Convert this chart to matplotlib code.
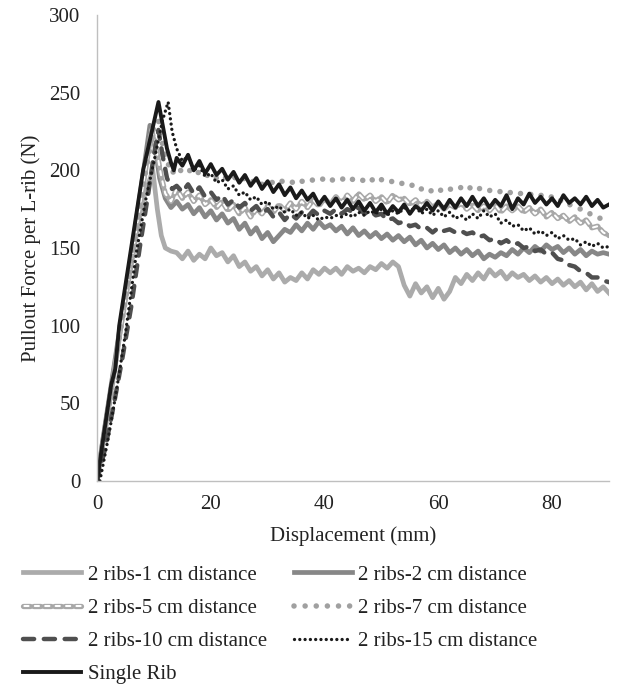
import numpy as np
import matplotlib
matplotlib.use("Agg")
import matplotlib.pyplot as plt
from matplotlib.legend_handler import HandlerTuple

plt.rcParams['font.family'] = ['Liberation Serif', 'DejaVu Serif']
plt.rcParams['lines.scale_dashes'] = False

# common x grid for the post-peak part (mm)
x_tail = np.arange(14, 91)

# 2 ribs - 1 cm
x1_head = [0, 1, 2.5, 4, 6, 8, 9.8, 10.6, 11.3, 12, 13]
y1_head = [0, 25, 60, 95, 140, 180, 200, 175, 158, 150, 148]
y1_tail = [147, 143, 148, 142, 146, 143, 150, 145, 147, 141,
           145, 138, 141, 135, 138, 132, 136, 130, 134, 128,
           131, 129, 134, 130, 136, 133, 137, 134, 137, 133,
           138, 135, 137, 134, 138, 136, 140, 137, 141, 138,
           126, 119, 127, 121, 125, 118, 124, 117, 122, 131,
           127, 133, 129, 134, 130, 136, 132, 135, 130, 134,
           131, 133, 129, 132, 128, 131, 127, 130, 126, 129,
           125, 128, 123, 127, 122, 125, 121]

# 2 ribs - 2 cm
x2_head = [0, 1, 2.5, 4, 6, 8, 9.3, 10.2, 11, 12, 13]
y2_head = [0, 26, 62, 98, 145, 195, 229, 215, 195, 182, 176]
y2_tail = [180, 175, 178, 172, 176, 170, 174, 168, 172, 166,
           169, 162, 166, 159, 163, 156, 160, 154, 158, 162,
           160, 165, 161, 166, 162, 167, 163, 165, 161, 164,
           159, 163, 158, 161, 157, 160, 156, 159, 155, 158,
           154, 157, 152, 155, 150, 153, 149, 152, 147, 150,
           146, 149, 145, 148, 143, 146, 144, 147, 145, 149,
           146, 150, 147, 151, 148, 152, 149, 151, 147, 150,
           146, 149, 145, 148, 146, 147, 146]

# 2 ribs - 5 cm
x5_head = [0, 1, 2.5, 4, 6, 8, 9.6, 10.5, 11.3, 12, 13]
y5_head = [0, 24, 58, 95, 140, 188, 226, 212, 196, 185, 180]
y5_tail = [188, 182, 186, 180, 184, 178, 181, 176, 180, 174,
           178, 172, 176, 170, 175, 172, 177, 173, 178, 174,
           179, 175, 180, 176, 181, 177, 182, 178, 183, 179,
           184, 180, 185, 181, 184, 180, 183, 179, 184, 181,
           182, 178, 181, 177, 180, 176, 179, 175, 178, 176,
           179, 175, 178, 174, 177, 174, 178, 173, 177, 174,
           177, 173, 176, 172, 175, 170, 173, 169, 171, 167,
           170, 166, 168, 163, 164, 160, 158]

# 2 ribs - 7 cm
x7_head = [0, 1, 2.5, 4, 6, 8, 10, 10.8, 11.6, 12.4, 13.2]
y7_head = [0, 24, 58, 94, 140, 188, 228, 232, 215, 205, 198]
y7_tail = [202, 199, 201, 197, 199, 196, 198, 195, 197, 194,
           196, 193, 195, 192, 194, 191, 193, 192, 194, 192,
           193, 191, 193, 192, 194, 193, 195, 193, 195, 194,
           196, 194, 195, 193, 195, 192, 194, 192, 193, 191,
           192, 190, 191, 188, 189, 186, 188, 186, 188, 187,
           189, 187, 190, 188, 189, 187, 188, 186, 187, 185,
           186, 184, 185, 183, 184, 182, 183, 180, 181, 178,
           177, 175, 174, 171, 170, 168, 166]

# 2 ribs - 10 cm
x10_head = [0, 1.5, 3, 4.5, 6, 7.5, 9, 10, 10.8, 11.5, 12.3, 13.2]
y10_head = [0, 22, 50, 80, 112, 150, 185, 210, 226, 210, 195, 188]
y10_tail = [190, 186, 191, 185, 189, 183, 186, 181, 184, 178,
            181, 176, 179, 174, 177, 172, 175, 170, 173, 168,
            172, 169, 173, 170, 174, 171, 174, 172, 175, 172,
            175, 173, 176, 172, 174, 171, 172, 168, 169, 166,
            167, 164, 165, 162, 163, 160, 163, 161, 162, 160,
            161, 159, 160, 157, 158, 155, 156, 153, 155, 152,
            153, 150, 151, 148, 149, 146, 147, 143, 142, 139,
            138, 135, 134, 131, 131, 129, 128]

# 2 ribs - 15 cm
x15_head = [0.5, 2, 3.5, 5, 7, 8.5, 10.2, 11.5, 12.5, 13.2]
y15_head = [0, 28, 60, 95, 149, 180, 209, 232, 244, 225]
y15_tail = [214, 206, 209, 200, 203, 196, 198, 192, 194, 188,
            190, 184, 186, 181, 183, 178, 180, 175, 177, 173,
            175, 171, 173, 169, 171, 168, 170, 169, 171, 170,
            172, 170, 173, 171, 174, 172, 175, 171, 174, 172,
            176, 173, 177, 172, 175, 171, 174, 170, 173, 169,
            171, 168, 172, 169, 174, 170, 172, 166, 168, 164,
            165, 161, 163, 159, 161, 158, 160, 156, 158, 155,
            156, 152, 154, 151, 153, 150, 151]

# single rib
xs_head = [0, 1.2, 2.5, 3.2, 3.9, 6, 8.1, 10.8, 11.6, 12.3, 13, 13.5]
ys_head = [0, 30, 62, 72, 100, 150, 200, 244, 228, 214, 205, 200]
ys_tail = [208, 203, 210, 200, 206, 198, 204, 197, 201, 194,
           199, 192, 197, 190, 195, 188, 193, 186, 191, 184,
           189, 182, 187, 181, 185, 178, 183, 177, 182, 176,
           181, 175, 180, 174, 179, 173, 178, 172, 177, 173,
           178, 172, 177, 174, 179, 174, 180, 175, 181, 176,
           182, 177, 183, 177, 182, 176, 181, 177, 184, 175,
           182, 178, 185, 179, 183, 178, 182, 177, 184, 179,
           182, 178, 183, 177, 181, 176, 178]


def join(xh, yh, yt):
    return np.concatenate([xh, x_tail]), np.concatenate([yh, yt])


fs = 15
fig = plt.figure(figsize=(6.22, 6.85), dpi=100)
ax = fig.add_axes([0.156, 0.298, 0.823, 0.680])

x, y = join(x1_head, y1_head, y1_tail)
h1, = ax.plot(x, y, color='#ababab', lw=3.4, solid_joinstyle='round')
x, y = join(x2_head, y2_head, y2_tail)
h2, = ax.plot(x, y, color='#878787', lw=3.4, solid_joinstyle='round')
x, y = join(x5_head, y5_head, y5_tail)
h5a, = ax.plot(x, y, color='#a8a8a8', lw=3.8, linestyle=(0, (5, 2.5)), dash_capstyle='round')
h5b, = ax.plot(x, y, color='white', lw=1.5, linestyle=(6.5, (3, 4.5)), dash_capstyle='round')
x, y = join(x7_head, y7_head, y7_tail)
h7, = ax.plot(x, y, color='#a0a0a0', lw=4.0, linestyle=(0, (0.01, 8)), dash_capstyle='round')
x, y = join(x10_head, y10_head, y10_tail)
h10, = ax.plot(x, y, color='#4f4f4f', lw=3.2, linestyle=(0, (8, 7)), dash_capstyle='round')
x, y = join(x15_head, y15_head, y15_tail)
h15, = ax.plot(x, y, color='#1a1a1a', lw=2.4, linestyle=(0, (0.01, 3.8)), dash_capstyle='round')
x, y = join(xs_head, ys_head, ys_tail)
hs, = ax.plot(x, y, color='#1a1a1a', lw=2.8, solid_joinstyle='round')

ax.set_xlim(0, 90)
ax.set_ylim(0, 300)
ax.set_xticks([0, 20, 40, 60, 80])
ax.set_yticks([0, 50, 100, 150, 200, 250, 300])
for s in ['top', 'right']:
    ax.spines[s].set_visible(False)
for s in ['left', 'bottom']:
    ax.spines[s].set_color('#bfbfbf')
    ax.spines[s].set_linewidth(1.0)
ax.tick_params(length=0, labelsize=fs, colors='#222222')
ax.tick_params(axis='y', pad=12)
ax.tick_params(axis='x', pad=10)
ax.set_xlabel('Displacement (mm)', fontsize=fs, color='#222222', labelpad=9)
ax.set_ylabel('Pullout Force per L-rib (N)', fontsize=fs, color='#222222', labelpad=6)

handles = [h1, (h5a, h5b), h10, hs, h2, h7, h15]
labels = ['2 ribs-1 cm distance', '2 ribs-5 cm distance', '2 ribs-10 cm distance',
          'Single Rib', '2 ribs-2 cm distance', '2 ribs-7 cm distance',
          '2 ribs-15 cm distance']
fig.legend(handles, labels, ncol=2, loc='lower left', bbox_to_anchor=(0.007, -0.026),
           frameon=False, fontsize=fs, handlelength=2.8, handletextpad=0.3,
           columnspacing=1.3, labelspacing=0.65, labelcolor='#222222',
           handler_map={tuple: HandlerTuple(ndivide=1, pad=0)})

fig.savefig('out.png', dpi=100)
